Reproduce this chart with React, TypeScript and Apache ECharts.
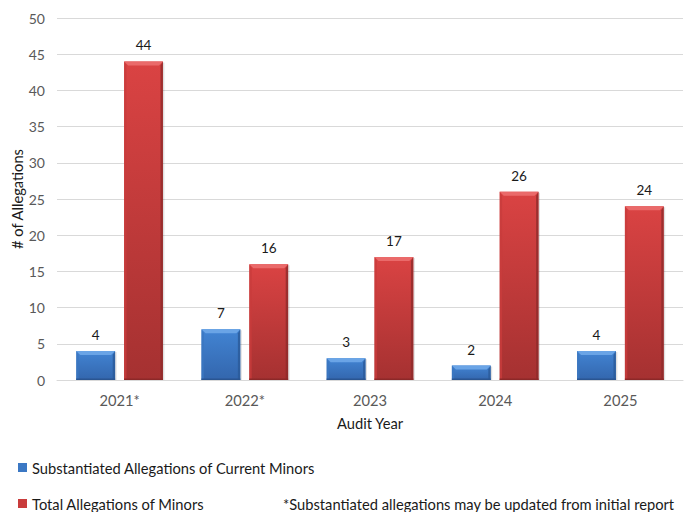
import React, { useEffect, useRef } from "react";
import * as echarts from "echarts";

const categories = ["2021*", "2022*", "2023", "2024", "2025"];
const substantiated = [4, 7, 3, 2, 4];
const totalAllegations = [44, 16, 17, 26, 24];
const seriesNames = ["Substantiated Allegations of Current Minors", "Total Allegations of Minors"];
const footnote = "*Substantiated allegations may be updated from initial report";

const FONT = "Lato, 'Noto Sans', sans-serif";
const FS = 14.7;

type Pal = { top: string; bottom: string; bevelTop: string; left: string; right: string; bot: string; solid: string };
const bluePal: Pal = { top: "#4284d3", bottom: "#3366ad", bevelTop: "#6aa4e6", left: "#3b77c0", right: "#2b5a99", bot: "#2a5591", solid: "#3b78c4" };
const redPal: Pal = { top: "#da4343", bottom: "#a53131", bevelTop: "#ea6a6a", left: "#c83c3c", right: "#8f2a2a", bot: "#8c2828", solid: "#c93c3c" };

function makeRender(sign: number, pal: Pal) {
  return (params: any, api: any) => {
    const cat = api.value(0);
    const v = api.value(1);
    const base = api.coord([cat, 0]);
    const top = api.coord([cat, v]);
    const band = api.size([1, 0])[0];
    const w = band * 0.31;
    const gap = band * 0.072;
    const cx = base[0] + sign * (gap / 2 + w / 2);
    const x0 = cx - w / 2;
    const x1 = cx + w / 2;
    const y0 = top[1];
    const y1 = base[1];
    const b = Math.min(4, (y1 - y0) / 2);
    return {
      type: "group",
      children: [
        {
          type: "rect",
          shape: { x: x1, y: y0 + 1, width: 1.5, height: y1 - y0 - 1 },
          style: { fill: "rgba(0,0,0,0.12)" },
        },
        {
          type: "rect",
          shape: { x: x0, y: y0, width: w, height: y1 - y0 },
          style: {
            fill: new echarts.graphic.LinearGradient(0, 0, 0, 1, [
              { offset: 0, color: pal.top },
              { offset: 1, color: pal.bottom },
            ]),
          },
        },
        {
          type: "polygon",
          shape: { points: [[x0, y0], [x1, y0], [x1 - b, y0 + b], [x0 + b, y0 + b]] },
          style: { fill: pal.bevelTop },
        },
        {
          type: "polygon",
          shape: { points: [[x0, y0], [x0 + b * 0.6, y0 + b], [x0 + b * 0.6, y1], [x0, y1]] },
          style: { fill: pal.left, opacity: 0.8 },
        },
        {
          type: "polygon",
          shape: { points: [[x1, y0], [x1 - b * 0.6, y0 + b], [x1 - b * 0.6, y1], [x1, y1]] },
          style: { fill: pal.right, opacity: 0.8 },
        },
        {
          type: "rect",
          shape: { x: x0, y: y1 - 1.5, width: w, height: 1.5 },
          style: { fill: pal.bot },
        },
        {
          type: "text",
          style: {
            x: cx,
            y: y0 - 9,
            text: String(v),
            fill: "#1a1a1a",
            font: `13.5px ${FONT}`,
            align: "center",
            verticalAlign: "bottom",
          },
        },
      ],
    };
  };
}

export default function App() {
  const ref = useRef<HTMLDivElement>(null);
  useEffect(() => {
    if (!ref.current) return;
    const chart = echarts.init(ref.current, undefined, { renderer: "svg" });
    const legendText = { color: "#1a1a1a", fontSize: FS, fontFamily: FONT };
    chart.setOption({
      animation: false,
      textStyle: { fontFamily: FONT },
      grid: { left: 57, right: 4, top: 18, bottom: 132, outerBoundsMode: "none", containLabel: false },
      xAxis: {
        type: "category",
        data: categories,
        axisLine: { lineStyle: { color: "#d9d9d9", width: 1 } },
        axisTick: { show: false },
        axisLabel: { color: "#595959", fontSize: FS, margin: 12, fontFamily: FONT },
        name: "Audit Year",
        nameLocation: "middle",
        nameGap: 35,
        nameMoveOverlap: false,
        nameTextStyle: { color: "#1a1a1a", fontSize: FS, fontFamily: FONT },
      },
      yAxis: {
        type: "value",
        min: 0,
        max: 50,
        interval: 5,
        axisLine: { show: false },
        axisTick: { show: false },
        splitLine: { lineStyle: { color: "#d9d9d9", width: 1 } },
        axisLabel: { color: "#595959", fontSize: 14, margin: 12, fontFamily: FONT },
        name: "# of Allegations",
        nameLocation: "middle",
        nameGap: 33,
        nameMoveOverlap: false,
        nameTextStyle: { color: "#1a1a1a", fontSize: FS, fontFamily: FONT },
      },
      legend: [
        {
          data: [seriesNames[0]],
          left: 18,
          top: 460,
          padding: 0,
          icon: "rect",
          itemWidth: 9,
          itemHeight: 9,
          textStyle: legendText,
          selectedMode: false,
        },
        {
          data: [seriesNames[1]],
          left: 18,
          top: 496,
          padding: 0,
          icon: "rect",
          itemWidth: 9,
          itemHeight: 9,
          textStyle: legendText,
          selectedMode: false,
        },
      ],
      graphic: [
        {
          type: "text",
          left: 283,
          top: 496,
          style: { text: footnote, fill: "#1a1a1a", font: `${FS}px ${FONT}` },
        },
      ],
      series: [
        {
          name: seriesNames[0],
          type: "custom",
          itemStyle: { color: bluePal.solid },
          encode: { x: 0, y: 1 },
          data: substantiated.map((v, i) => [i, v]),
          renderItem: makeRender(-1, bluePal),
        },
        {
          name: seriesNames[1],
          type: "custom",
          itemStyle: { color: redPal.solid },
          encode: { x: 0, y: 1 },
          data: totalAllegations.map((v, i) => [i, v]),
          renderItem: makeRender(1, redPal),
        },
      ],
    });
    return () => chart.dispose();
  }, []);
  return <div ref={ref} style={{ width: 687, height: 512, position: "absolute", left: 0, top: 0 }} />;
}
